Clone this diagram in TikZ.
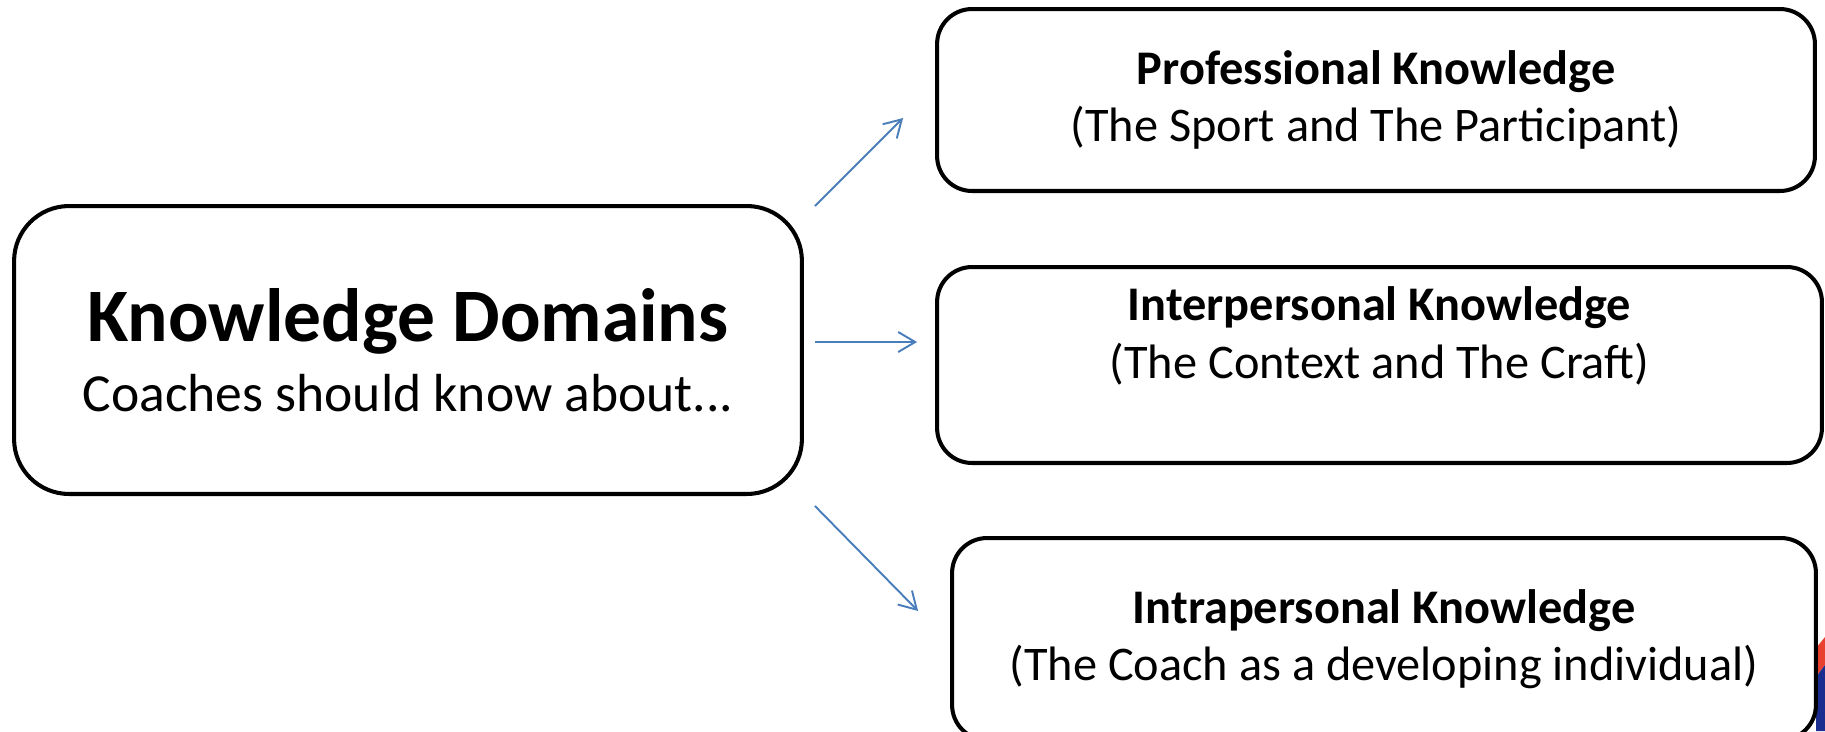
\documentclass[tikz,border=0pt]{standalone}
\usepackage{fontspec}
\setmainfont{Carlito}
\usetikzlibrary{arrows.meta, positioning}
\definecolor{linkblue}{HTML}{4A7EBB}
\definecolor{logored}{HTML}{E8412F}
\definecolor{logoblue}{HTML}{1B2D8E}

\begin{document}
\begin{tikzpicture}[
  x=0.02cm, y=-0.02cm,
  hubbox/.style={rectangle, rounded corners=1.1cm, draw=black, line width=2.3pt, fill=white, align=center, inner sep=0pt, outer sep=0pt, minimum width=15.76cm, minimum height=5.76cm, font=\fontsize{30.5}{39.5}\selectfont},
  areabox/.style={rectangle, rounded corners=0.7cm, draw=black, line width=2.3pt, fill=white, align=center, inner sep=0pt, outer sep=0pt, font=\fontsize{27.5}{32.5}\selectfont},
  link/.style={-{Straight Barb[length=3.4mm, width=4mm]}, line width=1.1pt, linkblue}
]
\useasboundingbox (0,0) rectangle (1825,731);

% corner of a logo, cut by the page edge
\fill[logored] (1816,648) -- (1825,637) -- (1825,665) -- (1816,677) -- cycle;
\fill[logoblue] (1816,677) -- (1825,665) -- (1825,731) -- (1816,731) -- cycle;

\node[hubbox] (main) at (408,350) {{\fontsize{43}{39.5}\selectfont\bfseries Knowledge Domains}\\Coaches should know about...};

\node[areabox, minimum width=17.56cm, minimum height=3.64cm] (prof) at (1376,100) {\textbf{Professional Knowledge}\\(The Sport and The Participant)};
\node[areabox, minimum width=17.7cm, minimum height=3.92cm, text depth=1.3cm] (inter) at (1379.5,365) {\textbf{Interpersonal Knowledge}\\(The Context and The Craft)};
\node[areabox, minimum width=17.28cm, minimum height=4.04cm] (intra) at (1384,639) {\textbf{Intrapersonal Knowledge}\\(The Coach as a developing individual)};

\draw[link] ([shift={(13,0)}]main.north east) -- ([shift={(-34,18)}]prof.west);
\draw[link] ([shift={(13,-8)}]main.east) -- ([shift={(-20,-23)}]inter.west);
\draw[link] ([shift={(13,12)}]main.south east) -- ([shift={(-34,-28)}]intra.west);

\end{tikzpicture}
\end{document}
